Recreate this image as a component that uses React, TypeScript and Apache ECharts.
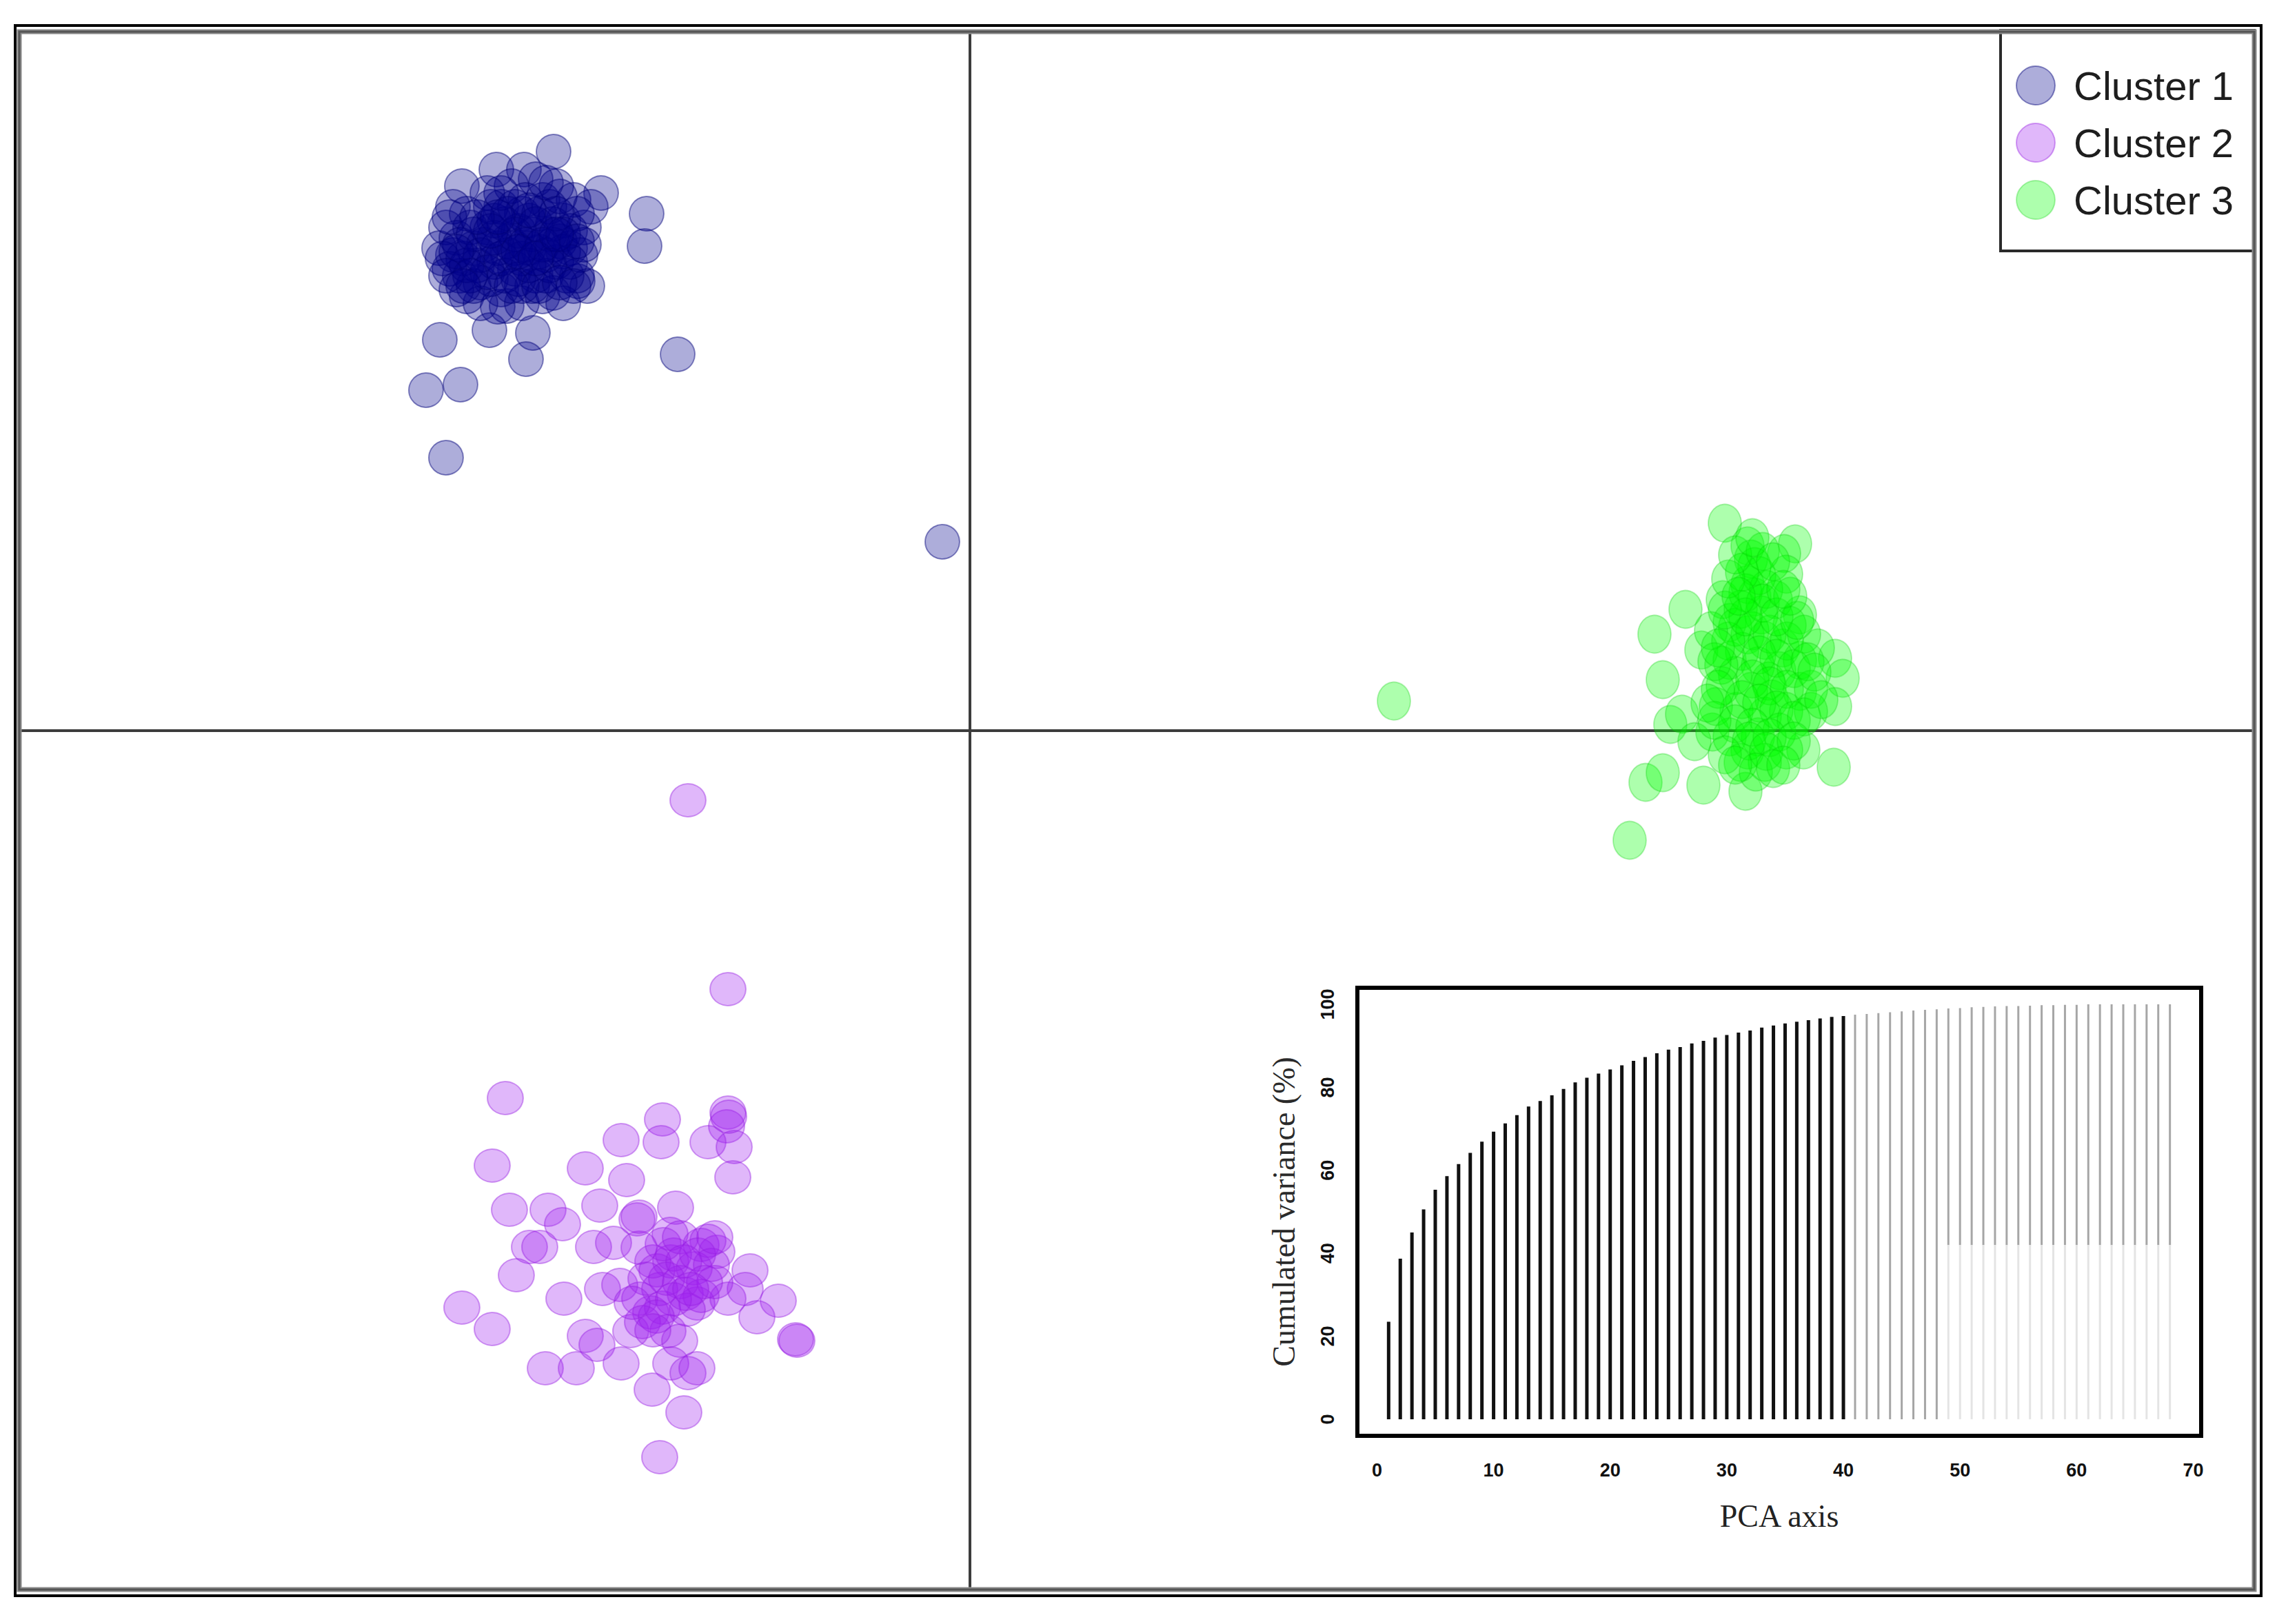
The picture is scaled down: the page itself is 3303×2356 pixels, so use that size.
import React, { useEffect, useRef } from "react";
import * as echarts from "echarts";

// ---------------- data ----------------
const clusterNames = ["Cluster 1", "Cluster 2", "Cluster 3"];

// PCA scores (PC1, PC2)
const cluster1Points: number[][] = [
  [-6.04, 8.4], [-6.87, 8.14], [-7.37, 7.9], [-6.47, 8.14], [-5.35, 7.8], [-4.69, 7.5],
  [-4.72, 7.03], [-5.69, 6.52], [-6.72, 6.16], [-6.97, 5.81], [-6.34, 5.77], [-6.44, 5.39],
  [-7.69, 5.67], [-7.39, 5.02], [-7.89, 4.94], [-7.6, 3.96], [-4.24, 5.46], [-0.4, 2.74],
  [-7.6, 7.3], [-7.5, 6.9], [-7.4, 6.6], [-7.3, 7.5], [-7.2, 7.0], [-7.1, 6.5], [-7.0, 7.3],
  [-6.9, 6.8], [-6.8, 7.6], [-6.8, 6.4], [-6.7, 7.1], [-6.6, 6.7], [-6.5, 7.5], [-6.4, 7.0],
  [-6.3, 6.6], [-6.2, 7.7], [-6.1, 7.2], [-6.0, 6.8], [-6.0, 7.9], [-5.9, 7.4], [-5.8, 7.0],
  [-5.75, 7.7], [-5.7, 6.6], [-6.3, 8.0], [-6.65, 7.9], [-7.0, 7.8], [-6.2, 6.3], [-6.5, 6.2],
  [-5.6, 7.3], [-7.5, 7.6], [-6.9, 7.4], [-6.4, 7.4], [-6.1, 7.6], [-6.7, 6.9], [-7.3, 6.3],
  [-5.55, 6.45], [-6.05, 6.35], [-5.5, 7.6], [-7.7, 7.0], [-7.1, 6.2], [-6.85, 6.15],
  [-5.9, 6.2], [-6.55, 7.25], [-6.25, 6.95], [-5.95, 7.1],
  [-7.45, 7.15], [-7.35, 6.85], [-7.25, 7.3], [-7.15, 6.75], [-7.05, 7.05], [-6.95, 6.55],
  [-6.95, 7.6], [-6.85, 7.0], [-6.75, 7.35], [-6.75, 6.6], [-6.6, 7.0], [-6.6, 7.6],
  [-6.5, 6.85], [-6.45, 7.7], [-6.35, 7.2], [-6.35, 6.45], [-6.25, 7.5], [-6.15, 6.9],
  [-6.15, 6.6], [-6.05, 7.35], [-5.95, 7.75], [-5.9, 6.95], [-5.85, 6.6], [-5.8, 7.25],
  [-5.7, 7.5], [-5.65, 6.9], [-7.55, 6.7], [-7.45, 6.4], [-7.2, 6.45], [-6.5, 6.45],
  [-6.05, 7.05], [-6.8, 7.8], [-6.15, 7.95], [-5.6, 7.05], [-7.65, 6.85],
  [-7.55, 7.45], [-7.4, 7.05], [-7.3, 6.75], [-7.2, 7.2], [-7.1, 6.9], [-7.0, 6.65],
  [-6.9, 7.15], [-6.8, 6.85], [-6.7, 7.5], [-6.6, 7.2], [-6.55, 6.55], [-6.45, 7.05],
  [-6.4, 6.75], [-6.3, 7.35], [-6.2, 7.05], [-6.1, 6.75], [-6.0, 7.5], [-5.9, 7.2],
  [-5.8, 6.8], [-5.7, 7.1], [-7.45, 6.95], [-7.25, 6.6], [-6.95, 7.25], [-6.65, 6.45],
  [-6.4, 7.55], [-6.25, 6.45], [-5.95, 6.5], [-7.15, 7.45], [-6.85, 7.45], [-6.55, 6.95],
  [-6.3, 6.85], [-6.0, 7.2], [-5.75, 6.45], [-7.6, 6.6], [-7.35, 6.45],
];

const cluster2Points: number[][] = [
  [-4.09, -1.01], [-3.51, -3.75], [-6.74, -5.33], [-4.46, -5.64], [-4.48, -5.97], [-5.06, -5.94],
  [-3.51, -5.54], [-3.53, -5.74], [-3.8, -5.97], [-3.42, -6.04], [-3.44, -6.48], [-6.93, -6.31],
  [-5.58, -6.35], [-4.98, -6.52], [-6.68, -6.95], [-6.12, -6.95], [-5.91, -7.16], [-5.37, -6.89],
  [-4.83, -7.09], [-4.27, -6.92], [-6.39, -7.49], [-6.24, -7.49], [-5.46, -7.49], [-5.17, -7.43],
  [-3.9, -7.46], [-3.67, -7.56], [-6.58, -7.9], [-4.34, -7.7], [-4.54, -7.83], [-3.19, -7.83],
  [-3.26, -8.1], [-5.89, -8.24], [-5.33, -8.1], [-5.08, -8.04], [-4.79, -8.24], [-4.63, -8.44],
  [-4.46, -8.37], [-4.13, -8.17], [-3.96, -8.31], [-2.78, -8.27], [-7.37, -8.37], [-6.93, -8.68],
  [-3.51, -8.24], [-3.09, -8.51], [-5.58, -8.78], [-5.41, -8.91], [-4.92, -8.71], [-4.75, -8.58],
  [-4.38, -8.71], [-4.21, -8.85], [-2.51, -8.85], [-6.16, -9.25], [-5.71, -9.25], [-5.06, -9.18],
  [-4.34, -9.18], [-4.09, -9.32], [-3.96, -9.25], [-4.61, -9.56], [-4.15, -9.89], [-4.5, -10.54],
  [-4.3, -7.6], [-4.0, -7.8], [-4.2, -8.0], [-3.8, -7.4], [-4.5, -8.1], [-3.9, -8.2],
  [-4.6, -7.7], [-4.1, -8.4], [-4.35, -7.3], [-3.7, -8.0],
  [-4.45, -7.45], [-4.2, -7.35], [-3.95, -7.6], [-3.75, -7.75], [-4.4, -7.95], [-4.15, -7.7],
  [-3.85, -8.0], [-4.3, -8.25], [-4.05, -8.1], [-4.7, -7.95], [-4.8, -7.5], [-4.55, -8.5],
  [-3.7, -7.35], [-4.9, -8.3], [-4.6, -8.7], [-4.8, -7.05], [-2.53, -8.83], [-3.5, -5.6],
];

const cluster3Points: number[][] = [
  [6.15, 0.43], [10.95, 3.01], [11.28, 2.68], [11.33, 2.49], [11.97, 2.71], [11.81, 2.57],
  [11.84, 2.27], [10.38, 1.76], [9.93, 1.4], [10.92, 1.9], [11.28, 2.12], [11.38, 1.94],
  [12.04, 1.68], [10.61, 1.17], [10.05, 0.74], [12.55, 1.05], [12.66, 0.76], [12.55, 0.35],
  [10.16, 0.09], [10.33, 0.24], [10.77, -0.02], [12.09, -0.28], [12.53, -0.53], [9.8, -0.75],
  [10.05, -0.61], [10.64, -0.79], [11.25, -0.88], [9.57, -1.59],
  [11.02, 1.57], [11.28, 1.39], [11.53, 1.31], [11.79, 1.2], [11.02, 1.02], [11.43, 0.94],
  [11.74, 0.87], [12.04, 1.02], [12.3, 1.2], [10.92, 0.65], [11.33, 0.57], [11.63, 0.46],
  [12.04, 0.57], [11.12, 0.28], [11.53, 0.21], [11.84, 0.28], [11.43, -0.09], [11.74, -0.02],
  [11.02, -0.09], [11.28, -0.28], [11.84, -0.28], [11.53, -0.46], [11.69, 1.9], [11.89, 1.53],
  [11.48, 1.68], [11.18, 1.76], [12.2, 0.28], [10.82, 0.35], [10.51, -0.16], [11.38, 2.38],
  [11.58, 0.72], [11.18, -0.46],
  [11.1, 1.5], [11.35, 1.45], [11.6, 1.4], [11.85, 1.3], [11.2, 1.15], [11.45, 1.1],
  [11.7, 1.05], [11.95, 0.9], [11.1, 0.8], [11.35, 0.75], [11.6, 0.65], [11.85, 0.6],
  [11.2, 0.45], [11.45, 0.4], [11.7, 0.3], [11.95, 0.15], [11.1, 0.1], [11.35, 0.05],
  [11.6, -0.1], [11.3, -0.15], [11.55, -0.3], [11.4, -0.6], [11.65, -0.55], [11.25, 2.0],
  [11.55, 2.05], [11.45, 2.25], [11.2, 2.3], [11.5, 1.85], [11.7, 1.65], [11.0, 1.3],
  [10.9, 0.95], [12.2, 0.6], [12.1, 1.4], [11.25, 1.65],
  [10.75, 1.45], [10.8, 1.0], [10.85, 0.6], [10.8, 0.15], [10.95, 1.75], [11.0, 2.2],
  [12.15, 1.0], [12.0, 1.6], [12.1, 0.2], [11.95, -0.15], [12.25, 0.85], [11.9, 1.95],
  [10.95, -0.35], [11.1, -0.5], [11.8, -0.5], [11.1, 2.55], [11.5, 2.6], [11.35, 2.8],
  [10.7, 0.4], [12.35, 0.45], [11.65, 2.45], [11.15, 1.95], [11.8, 2.05], [10.85, 1.2],
];

// inset: cumulated variance (%) per PCA axis
const cumulatedVariance = [
  23.5, 38.7, 45.0, 50.6, 55.3, 58.6, 61.5, 64.2, 66.9, 69.3,
  71.3, 73.3, 75.4, 76.7, 78.1, 79.6, 81.2, 82.3, 83.3, 84.3,
  85.3, 86.4, 87.3, 88.2, 89.1, 89.7, 90.6, 91.2, 92.0, 92.6,
  93.2, 93.7, 94.4, 94.9, 95.4, 95.8, 96.2, 96.6, 97.0, 97.2,
  97.5, 97.7, 97.9, 98.1, 98.3, 98.5, 98.7, 98.8, 99.0, 99.1,
  99.3, 99.4, 99.5, 99.6, 99.6, 99.7, 99.8, 99.8, 99.9, 99.9,
  100, 100, 100, 100, 100, 100, 100, 100,
];
const retainedAxes = 40; // dark bars
const fullGreyAxes = 48; // grey bars down to 0
const lightSplitValue = 42; // light lower part after that
const insetXTicks = [0, 10, 20, 30, 40, 50, 60, 70];
const insetYTicks = [0, 20, 40, 60, 80, 100];

// --------------- component ---------------
export default function App() {
  const ref = useRef<HTMLDivElement>(null);

  useEffect(() => {
    document.body.style.margin = "0";
    document.body.style.overflow = "hidden";
    const chart = echarts.init(ref.current as HTMLDivElement, null, { renderer: "svg" });

    const darkBars: number[][] = [];
    const greyBars: number[][] = [];
    const lightBars: number[][] = [];
    cumulatedVariance.forEach((v, i) => {
      const axis = i + 1;
      if (axis <= retainedAxes) darkBars.push([axis, 0, v]);
      else if (axis <= fullGreyAxes) greyBars.push([axis, 0, v]);
      else {
        greyBars.push([axis, lightSplitValue, v]);
        lightBars.push([axis, 0, lightSplitValue]);
      }
    });

    const barRenderer = (width: number, color: string) => (params: any, api: any) => {
      const x = api.value(0);
      const p0 = api.coord([x, api.value(1)]);
      const p1 = api.coord([x, api.value(2)]);
      return {
        type: "rect",
        shape: { x: p0[0] - width / 2, y: p1[1], width, height: p0[1] - p1[1] },
        style: { fill: color },
      };
    };

    const scatterStyle = (fill: string, border: string) => ({
      color: fill,
      borderColor: border,
      borderWidth: 2,
    });

    const option: any = {
      animation: false,
      backgroundColor: "#ffffff",
      grid: [
        { left: 31, top: 49, width: 3236, height: 2253, show: false },
        {
          left: 1969, top: 1433, width: 1224, height: 650, show: true,
          backgroundColor: "#ffffff", borderColor: "#000000", borderWidth: 6, z: 3,
        },
      ],
      xAxis: [
        {
          gridIndex: 0, type: "value", min: -13.76, max: 18.6,
          axisLine: { show: true, onZero: true, lineStyle: { color: "#3c3c3c", width: 4 } },
          axisTick: { show: false }, axisLabel: { show: false }, splitLine: { show: false },
        },
        {
          gridIndex: 1, type: "value", min: -1.68, max: 70.68,
          axisLine: { show: false },
          axisTick: { show: true, customValues: insetXTicks, length: 13, lineStyle: { color: "#111", width: 2 } },
          axisLabel: {
            customValues: insetXTicks, margin: 36, fontSize: 27, fontWeight: "bold",
            fontFamily: "Liberation Sans", color: "#111",
          },
          splitLine: { show: false },
          name: "PCA axis", nameLocation: "middle", nameGap: 93,
          nameTextStyle: { fontFamily: "Liberation Serif", fontSize: 46, color: "#222" },
        },
      ],
      yAxis: [
        {
          gridIndex: 0, type: "value", min: -12.42, max: 10.11,
          axisLine: { show: true, onZero: true, lineStyle: { color: "#3c3c3c", width: 4 } },
          axisTick: { show: false }, axisLabel: { show: false }, splitLine: { show: false },
        },
        {
          gridIndex: 1, type: "value", min: -4, max: 104,
          axisLine: { show: false },
          axisTick: { show: true, customValues: insetYTicks, length: 13, lineStyle: { color: "#111", width: 2 } },
          axisLabel: {
            customValues: insetYTicks, rotate: 90, margin: 30, fontSize: 27, fontWeight: "bold",
            fontFamily: "Liberation Sans", color: "#111",
          },
          splitLine: { show: false },
          name: "Cumulated variance (%)", nameLocation: "middle", nameGap: 84,
          nameTextStyle: { fontFamily: "Liberation Serif", fontSize: 46, color: "#2a2a2a" },
        },
      ],
      legend: {
        data: clusterNames, orient: "vertical", left: 2924, top: 95,
        itemWidth: 100, itemHeight: 56, itemGap: 25, padding: 0, icon: "circle",
        selectedMode: false, z: 10,
        textStyle: { fontSize: 58, color: "#1e1e1e", fontFamily: "Liberation Sans" },
      },
      graphic: [
        {
          type: "rect", z: 1,
          shape: { x: 2902, y: 44, width: 368, height: 320 },
          style: { fill: "#ffffff", stroke: "#2a2a2a", lineWidth: 4 },
        },
        {
          type: "rect", z: 5,
          shape: { x: 28, y: 46, width: 3242, height: 2260 },
          style: { fill: "none", stroke: "#8a8a8a", lineWidth: 7 },
        },
        {
          type: "rect", z: 6,
          shape: { x: 28, y: 46, width: 3242, height: 2260 },
          style: { fill: "none", stroke: "#555555", lineWidth: 3 },
        },
        {
          type: "rect", z: 6,
          shape: { x: 22, y: 37, width: 3258, height: 2278 },
          style: { fill: "none", stroke: "#000000", lineWidth: 4 },
        },
      ],
      series: [
        {
          name: clusterNames[0], type: "scatter", xAxisIndex: 0, yAxisIndex: 0,
          data: cluster1Points, symbol: "circle", symbolSize: [50, 50],
          itemStyle: scatterStyle("rgba(0,0,139,0.4)", "rgba(0,0,120,0.55)"),
          emphasis: { disabled: true },
        },
        {
          name: clusterNames[1], type: "scatter", xAxisIndex: 0, yAxisIndex: 0,
          data: cluster2Points, symbol: "circle", symbolSize: [52, 48],
          itemStyle: scatterStyle("rgba(160,32,240,0.4)", "rgba(150,30,225,0.5)"),
          emphasis: { disabled: true },
        },
        {
          name: clusterNames[2], type: "scatter", xAxisIndex: 0, yAxisIndex: 0,
          data: cluster3Points, symbol: "circle", symbolSize: [48, 55],
          itemStyle: scatterStyle("rgba(0,255,0,0.4)", "rgba(0,200,0,0.35)"),
          emphasis: { disabled: true },
        },
        {
          type: "custom", xAxisIndex: 1, yAxisIndex: 1, z: 4,
          renderItem: barRenderer(5, "#111111"), data: darkBars,
          encode: { x: 0, y: [1, 2] }, silent: true,
        },
        {
          type: "custom", xAxisIndex: 1, yAxisIndex: 1, z: 4,
          renderItem: barRenderer(3, "#a6a6a6"), data: greyBars,
          encode: { x: 0, y: [1, 2] }, silent: true,
        },
        {
          type: "custom", xAxisIndex: 1, yAxisIndex: 1, z: 4,
          renderItem: barRenderer(3, "#e4e4e4"), data: lightBars,
          encode: { x: 0, y: [1, 2] }, silent: true,
        },
      ],
    };

    chart.setOption(option);
    return () => chart.dispose();
  }, []);

  return <div ref={ref} style={{ width: 3303, height: 2356, background: "#ffffff" }} />;
}
